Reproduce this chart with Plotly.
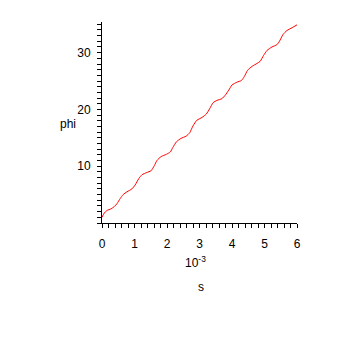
import plotly.graph_objects as go

s_vals = [0.00, 0.07, 0.15, 0.28, 0.38, 0.46, 0.56, 0.65, 0.77, 0.92, 1.02, 1.13, 1.23,
          1.38, 1.51, 1.61, 1.69, 1.82, 1.98, 2.10, 2.18, 2.29, 2.43, 2.59, 2.70, 2.80,
          2.92, 3.08, 3.21, 3.31, 3.42, 3.54, 3.69, 3.79, 3.90, 4.00, 4.15, 4.29, 4.38,
          4.48, 4.62, 4.77, 4.87, 4.97, 5.08, 5.23, 5.38, 5.46, 5.57, 5.69, 5.85, 6.00]
phi_vals = [1.0, 1.75, 2.2, 2.5, 2.9, 3.4, 4.3, 5.0, 5.5, 6.0, 6.7, 7.8, 8.5,
            8.9, 9.2, 10.1, 11.0, 11.7, 12.1, 12.5, 13.3, 14.3, 14.9, 15.3, 15.9, 17.1,
            18.1, 18.6, 19.2, 20.1, 21.2, 21.6, 21.9, 22.5, 23.4, 24.3, 24.8, 25.1, 25.8,
            26.9, 27.6, 28.1, 28.5, 29.5, 30.4, 31.0, 31.4, 32.0, 33.2, 33.9, 34.4, 34.9]

x_ticks = [0, 1, 2, 3, 4, 5, 6]
y_ticks = [10, 20, 30]

FONT = "Liberation Sans"

fig = go.Figure()
fig.add_trace(go.Scatter(x=s_vals, y=phi_vals, mode="lines",
                         line=dict(color="#ff0000", width=1, shape="spline", smoothing=0.6),
                         hoverinfo="skip", showlegend=False))

W = H = 339
L, R, T, B = 101.7, 42.3, 21.7, 115.7
pw, ph = W - L - R, H - T - B

def px2paper(px, py):
    return (px - L) / pw, (H - B - py) / ph

fig.update_layout(
    width=W, height=H,
    margin=dict(l=L, r=R, t=T, b=B, pad=0),
    paper_bgcolor="white", plot_bgcolor="white",
    font=dict(family=FONT, size=11, color="black"),
    xaxis=dict(range=[0, 6], tickvals=x_ticks, ticktext=[str(v) for v in x_ticks],
               showgrid=False, zeroline=False, showline=True, linecolor="black", linewidth=1,
               ticks="outside", ticklen=4, tickcolor="black", tickwidth=1,
               ticklabelstandoff=6,
               minor=dict(dtick=0.2, ticks="outside", ticklen=4, tickcolor="black", showgrid=False),
               tickfont=dict(family=FONT, size=12, color="black"), fixedrange=True),
    yaxis=dict(range=[0, 35.4], tickvals=y_ticks, ticktext=[str(v) for v in y_ticks],
               showgrid=False, zeroline=False, showline=True, linecolor="black", linewidth=1,
               ticks="outside", ticklen=4, tickcolor="black", tickwidth=1,
               ticklabelstandoff=4,
               minor=dict(dtick=1, ticks="outside", ticklen=4, tickcolor="black", showgrid=False),
               tickfont=dict(family=FONT, size=12, color="black"), fixedrange=True),
)

ax, ay = px2paper(195, 262)
fig.add_annotation(x=ax, y=ay, xref="paper", yref="paper", text="10<sup>-3</sup>",
                   showarrow=False, xanchor="center", yanchor="middle",
                   font=dict(family=FONT, size=12, color="black"))
sx, sy = px2paper(200.5, 287)
fig.add_annotation(x=sx, y=sy, xref="paper", yref="paper", text="s",
                   showarrow=False, xanchor="center", yanchor="middle",
                   font=dict(family=FONT, size=12, color="black"))
phx, phy = px2paper(68, 124)
fig.add_annotation(x=phx, y=phy, xref="paper", yref="paper", text="phi",
                   showarrow=False, xanchor="center", yanchor="middle",
                   font=dict(family=FONT, size=12, color="black"))

fig.write_html("out.html", config={"displayModeBar": False})
